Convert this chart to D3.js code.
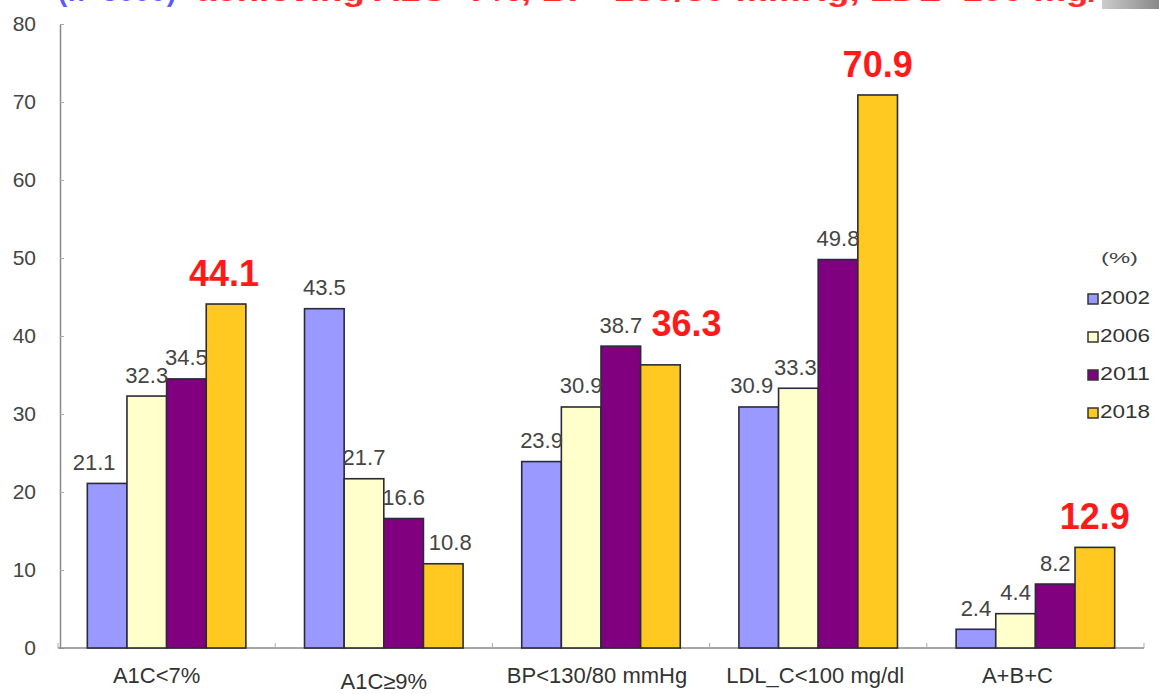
<!DOCTYPE html>
<html>
<head>
<meta charset="utf-8">
<script src="https://cdn.jsdelivr.net/npm/d3@7/dist/d3.min.js"></script>
<style>
  body { margin: 0; background: #fff; }
  text { font-family: "Liberation Sans", Arial, sans-serif; }
</style>
</head>
<body>
<svg id="chart" width="1159" height="694"></svg>
<script>
// categories and series
var categories = ["A1C<7%", "A1C\u22659%", "BP<130/80 mmHg", "LDL_C<100 mg/dl", "A+B+C"];
var years = ["2002", "2006", "2011", "2018"];
var v2002 = [21.1, 43.5, 23.9, 30.9, 2.4];
var v2006 = [32.3, 21.7, 30.9, 33.3, 4.4];
var v2011 = [34.5, 16.6, 38.7, 49.8, 8.2];
var v2018 = [44.1, 10.8, 36.3, 70.9, 12.9];
var yTicks = [0, 10, 20, 30, 40, 50, 60, 70, 80];
var colors = ["#9999ff", "#ffffcc", "#800080", "#ffc922"];

var series = [v2002, v2006, v2011, v2018];
var svg = d3.select("#chart");

var x0 = 58, x1 = 1144, yBase = 648, yTop = 24;

var scX = d3.scaleBand().domain(categories).range([x0, x1]).paddingInner(0.27).paddingOuter(0.135);
var scSub = d3.scaleBand().domain(years).range([0, scX.bandwidth()]);
var scY = d3.scaleLinear().domain([0, 80]).range([yBase, yTop]);

// title strip: the original picture is cropped through this line,
// only the bottom few pixels of it show
var defs = svg.append("defs");
defs.append("clipPath").attr("id", "topclip")
    .append("rect").attr("x", 0).attr("y", 0).attr("width", 1159).attr("height", 8);
var title = svg.append("g").attr("clip-path", "url(#topclip)")
    .append("g").attr("transform", "translate(0,-20)");
title.append("text").attr("x", 58).attr("y", 21)
    .attr("font-size", 28).attr("font-weight", "bold").attr("fill", "#5a5aff")
    .attr("textLength", 118).text("(n=5000)");
title.append("text").attr("x", 196).attr("y", 21)
    .attr("font-size", 28).attr("font-weight", "bold").attr("fill", "#ff2a2a")
    .attr("textLength", 935).attr("lengthAdjust", "spacingAndGlyphs")
    .text("achieving A1C<7%, BP<130/80 mmHg, LDL<100 mg/dl");
var grad = defs.append("linearGradient").attr("id", "gr");
grad.append("stop").attr("offset", "0%").attr("stop-color", "#ccc");
grad.append("stop").attr("offset", "100%").attr("stop-color", "#888");
svg.append("rect").attr("x", 1102).attr("y", 0).attr("width", 57).attr("height", 9)
    .attr("fill", "url(#gr)");

// y axis
var yAxis = svg.append("g").attr("transform", "translate(" + x0 + ",0)")
    .call(d3.axisLeft(scY).tickValues(yTicks).tickSize(4).tickSizeOuter(0));
yAxis.select(".domain").attr("stroke", "#888").attr("stroke-width", 1.5)
    .attr("transform", "translate(2,0)");
yAxis.selectAll(".tick line").attr("stroke", "#aaa").attr("x1", 2).attr("x2", 6);
yAxis.selectAll(".tick text").attr("x", -22).attr("font-size", 21).attr("fill", "#444")
    .attr("font-family", "Liberation Sans, Arial, sans-serif");

// x axis
var catNudge = [-10, 0, -4, -3, -18];
var xAxis = svg.append("g").attr("transform", "translate(0," + yBase + ")")
    .call(d3.axisBottom(scX).tickSize(0).tickSizeOuter(0));
xAxis.select(".domain").attr("stroke", "#888").attr("stroke-width", 1.5)
    .attr("d", "M" + x0 + ",0H" + x1);
xAxis.selectAll(".tick text").attr("font-size", 22).attr("fill", "#333")
    .attr("font-family", "Liberation Sans, Arial, sans-serif")
    .attr("y", 0).attr("dy", 0)
    .attr("transform", (d, i) => "translate(" + catNudge[i] + "," + (i === 1 ? 41 : 35) + ")");
// category separators
svg.append("g").selectAll("line")
    .data(d3.range(0, categories.length + 1)).enter().append("line")
    .attr("x1", i => x0 + i * (x1 - x0) / categories.length)
    .attr("x2", i => x0 + i * (x1 - x0) / categories.length)
    .attr("y1", yBase).attr("y2", yBase - 5)
    .attr("stroke", "#aaa").attr("stroke-width", 1);

// bars
var groups = svg.append("g").selectAll("g")
    .data(categories).enter().append("g")
    .attr("transform", d => "translate(" + scX(d) + ",0)");

groups.selectAll("rect")
    .data((c, ci) => series.map((s, si) => ({ year: years[si], si: si, v: s[ci] })))
    .enter().append("rect")
    .attr("x", d => scSub(d.year))
    .attr("width", scSub.bandwidth())
    .attr("y", d => scY(d.v))
    .attr("height", d => yBase - scY(d.v))
    .attr("fill", d => colors[d.si])
    .attr("stroke", "#2a2a3a").attr("stroke-width", 1.6);

// value labels (nudges keep overlapping labels apart as in the original)
var nudgeX = { "0-0": -13, "0-3": -2, "1-3": 7, "2-3": 26, "3-0": -7, "3-1": -3 };
var nudgeY = { "2-3": -11 };
groups.each(function (c, ci) {
    var g = d3.select(this);
    series.forEach(function (s, si) {
        var big = si === 3 && ci !== 1;
        var key = ci + "-" + si;
        g.append("text")
            .attr("x", scSub(years[si]) + scSub.bandwidth() / 2 + (nudgeX[key] || 0))
            .attr("y", scY(s[ci]) - (big ? 18 : 13.5) + (nudgeY[key] || 0))
            .attr("text-anchor", "middle")
            .attr("font-size", big ? 36 : 22)
            .attr("font-weight", big ? "bold" : "normal")
            .attr("fill", big ? "#ff1a1a" : "#444")
            .text(s[ci].toFixed(1));
    });
});

// legend
var leg = svg.append("g");
leg.append("text").attr("x", 1101).attr("y", 263)
    .attr("font-family", "Liberation Serif, Times New Roman, serif")
    .attr("font-size", 15).attr("fill", "#444")
    .attr("textLength", 37).attr("lengthAdjust", "spacingAndGlyphs").text("(%)");
var li = leg.selectAll("g.li").data(years).enter().append("g")
    .attr("transform", (d, i) => "translate(1088," + (304 + i * 38) + ")");
li.append("rect").attr("width", 10).attr("height", 10).attr("y", -10)
    .attr("fill", (d, i) => colors[i]).attr("stroke", "#333").attr("stroke-width", 1.5);
li.append("text").attr("x", 12).attr("y", 0).attr("font-size", 19).attr("fill", "#333")
    .attr("textLength", 50).attr("lengthAdjust", "spacingAndGlyphs")
    .text(d => d);
</script>
</body>
</html>
